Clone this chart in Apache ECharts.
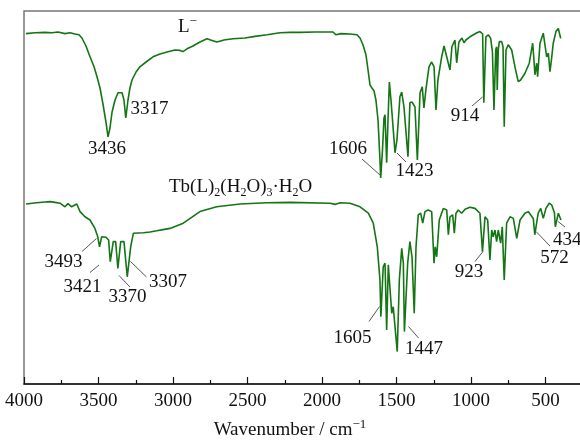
<!DOCTYPE html>
<html><head><meta charset="utf-8">
<script src="https://cdn.jsdelivr.net/npm/echarts@6/dist/echarts.min.js"></script>
<style>html,body{margin:0;padding:0;background:#fff}#c{width:580px;height:441px}</style>
</head><body><div id="c"></div>
<script>
// Wavenumber (cm-1) and relative transmittance (a.u., offset traces)
const ligandWavenumbers = [3987,3926,3859,3812,3772,3725,3691,3658,3631,3611,3584,3557,3530,3510,3490,3470,3450,3436,3423,3409,3389,3369,3356,3342,3329,3317,3302,3289,3275,3248,3222,3181,3134,3087,3040,2987,2953,2933,2906,2866,2819,2772,2738,2705,2658,2597,2517,2450,2369,2282,2215,2148,2047,1926,1906,1893,1873,1812,1765,1745,1725,1705,1691,1678,1665,1651,1638,1624,1611,1606,1594,1584,1577,1566,1557,1548,1537,1510,1497,1477,1465,1450,1423,1410,1396,1376,1360,1342,1327,1316,1302,1282,1264,1248,1235,1222,1197,1181,1168,1141,1128,1108,1096,1081,1061,1047,1034,1007,960,940,922,914,900,884,868,856,846,834,828,824,817,810,801,794,785,777,765,750,727,705,683,667,638,609,586,579,571,559,553,537,515,504,492,481,470,459,448,430,414,403,398];
const ligandValues = [87.6,87.8,87.9,87.8,88.0,87.6,87.8,87.5,87.3,86.5,84.5,81.8,79.3,76.8,74.0,70.0,65.5,61.8,64.0,68.0,71.0,72.8,73.3,72.8,71.0,66.5,71.0,74.0,76.0,78.0,79.3,80.5,81.8,82.5,83.0,83.5,83.4,83.1,83.8,84.5,85.5,86.3,85.9,85.5,86.0,86.3,86.5,86.9,87.3,87.8,87.9,87.9,88.0,88.0,87.3,87.0,87.6,87.5,87.3,86.5,84.8,82.3,78.5,74.8,74.0,73.3,71.0,66.0,56.0,51.5,58.5,66.5,67.3,55.3,66.0,75.5,71.0,57.8,61.0,71.8,73.0,69.3,56.8,70.3,70.5,69.3,56.0,72.8,74.3,69.0,73.8,79.3,80.5,79.3,68.5,76.0,81.8,84.5,84.3,78.5,84.3,86.0,80.3,85.5,86.5,85.3,86.0,86.8,87.8,88.1,87.5,70.3,86.8,87.3,86.4,83.0,68.5,83.5,84.3,73.5,83.5,85.6,85.7,85.6,84.3,64.3,83.5,84.8,83.5,79.3,75.6,76.0,77.7,80.2,85.2,81.8,77.3,80.2,76.8,85.2,87.7,87.3,81.8,82.7,78.1,81.4,85.2,88.1,88.9,89.3,86.4];

const complexWavenumbers = [3987,3915,3859,3826,3792,3758,3725,3705,3680,3646,3624,3591,3557,3524,3505,3493,3479,3450,3432,3421,3401,3385,3370,3351,3329,3307,3284,3266,3199,3154,3109,3067,3020,2931,2819,2707,2550,2371,2215,1946,1913,1879,1812,1745,1689,1656,1629,1611,1605,1589,1577,1566,1555,1544,1532,1522,1510,1495,1481,1465,1454,1447,1425,1410,1396,1381,1369,1354,1338,1324,1309,1287,1264,1248,1240,1230,1213,1186,1163,1152,1141,1123,1112,1101,1085,1063,1040,1007,973,940,923,906,888,873,861,851,839,828,817,801,790,777,761,738,716,693,671,638,616,582,572,549,532,515,497,475,459,440,434,414,408,396];
const complexValues = [45.0,45.3,45.5,45.6,45.4,45.2,44.3,45.1,44.3,45.0,43.1,41.8,41.0,38.9,36.8,34.3,36.8,36.7,36.0,30.6,35.6,35.6,28.9,35.6,35.6,26.8,34.3,37.7,37.8,38.0,38.3,38.6,38.9,40.2,43.1,44.3,45.0,45.3,45.4,45.2,44.9,45.3,45.2,44.3,42.7,40.2,34.3,26.0,16.8,29.3,30.2,13.5,29.8,29.3,17.7,19.3,19.8,8.1,26.0,33.9,30.2,13.1,30.2,35.6,31.8,17.7,34.3,42.3,42.7,40.2,43.1,43.5,43.1,30.2,34.3,31.8,41.0,43.9,43.5,37.3,41.8,42.3,37.7,42.7,43.5,42.7,43.7,44.2,43.9,42.7,33.1,41.8,41.0,31.0,38.5,36.8,38.5,35.6,38.5,35.2,39.3,26.0,40.2,41.8,41.4,36.4,41.0,42.7,43.1,41.4,37.3,42.7,43.9,41.4,43.9,45.2,44.8,42.8,39.3,42.7,42.9,41.0];

const xTickLabels = [4000,3500,3000,2500,2000,1500,1000,500];

const FONT = '"Liberation Serif", "Times New Roman", serif';
const chart = echarts.init(document.getElementById('c'), null, {renderer: 'canvas'});

const toPairs = (xs, ys) => xs.map((x, i) => [x, ys[i]]);
const lineColor = '#147514';

function label(text, cx, cy) {
  return {type: 'text', x: cx, y: cy, z: 10,
    style: {text: text, font: '19px ' + FONT, fill: '#111', align: 'center', verticalAlign: 'middle'}};
}
function leader(x1, y1, x2, y2) {
  return {type: 'line', z: 10, shape: {x1, y1, x2, y2}, style: {stroke: '#555', lineWidth: 1}};
}

const richStyles = {
  n: {fontFamily: FONT, fontSize: 19, lineHeight: 24, fill: '#111', verticalAlign: 'middle'},
  sub: {fontFamily: FONT, fontSize: 12, lineHeight: 10, fill: '#111', verticalAlign: 'bottom'},
  sup: {fontFamily: FONT, fontSize: 13, lineHeight: 12, fill: '#111', verticalAlign: 'top'}
};

chart.setOption({
  animation: false,
  backgroundColor: '#fff',
  grid: {left: 24, top: 11, width: 596, height: 373, show: true, borderColor: '#777', borderWidth: 1.5,
         containLabel: false, outerBoundsMode: 'none'},
  xAxis: {
    type: 'value', min: 0, max: 4000, interval: 500, inverse: true,
    axisLine: {show: true, onZero: false, lineStyle: {color: '#111', width: 1.5}},
    axisTick: {show: true, inside: true, length: 7, lineStyle: {color: '#111', width: 1.2}},
    minorTick: {show: true, splitNumber: 2, length: 4, lineStyle: {color: '#111', width: 1.2}},
    splitLine: {show: false},
    axisLabel: {margin: 8, fontFamily: FONT, fontSize: 19, color: '#111', hideOverlap: false,
      formatter: v => xTickLabels.indexOf(v) >= 0 ? String(v) : ''}
  },
  yAxis: {
    type: 'value', min: 0, max: 93.25,
    axisLine: {show: true, lineStyle: {color: '#111', width: 1.5}},
    axisTick: {show: false}, axisLabel: {show: false}, splitLine: {show: false}
  },
  series: [
    {name: 'L-', type: 'line', data: toPairs(ligandWavenumbers, ligandValues), showSymbol: false,
     lineStyle: {color: lineColor, width: 1.6}},
    {name: 'Tb(L)2(H2O)3·H2O', type: 'line', data: toPairs(complexWavenumbers, complexValues), showSymbol: false,
     lineStyle: {color: lineColor, width: 1.6}}
  ],
  graphic: [
    {type: 'text', x: 178, y: 27, z: 10, style: {text: '{n|L}{sup|−}', rich: richStyles, verticalAlign: 'middle'}},
    {type: 'text', x: 169, y: 187, z: 10, style: {text: '{n|Tb(L)}{sub|2}{n|(H}{sub|2}{n|O)}{sub|3}{n|·H}{sub|2}{n|O}', rich: richStyles, verticalAlign: 'middle'}},
    {type: 'text', x: 290, y: 430, z: 10, style: {text: '{n|Wavenumber / cm}{sup|−1}', rich: richStyles, align: 'center', verticalAlign: 'middle'}},
    label('3436', 107, 149), label('3317', 149.5, 109),
    label('1606', 348, 149), leader(362, 159, 380, 175),
    label('1423', 414.5, 171.5), leader(397, 153, 406, 162),
    label('914', 465, 116), leader(472, 106, 482.5, 97),
    label('3493', 63.5, 262.5), leader(82, 251.5, 96.5, 238.5),
    label('3421', 82.5, 287), leader(90, 272.5, 99, 265),
    label('3370', 127.5, 297.5), leader(119, 275.5, 130, 287),
    label('3307', 168, 282), leader(130.5, 261.5, 146.5, 277),
    label('1605', 352.5, 338.5), leader(369, 321.5, 379.5, 306.5),
    label('1447', 424, 349), leader(408.5, 326.5, 418.5, 338),
    label('923', 469, 272), leader(475, 261.5, 483, 251.5),
    label('572', 554.5, 258), leader(536, 231.5, 550, 246),
    {type: 'text', x: 553, y: 240, z: 10, style: {text: '434', font: '19px ' + FONT, fill: '#111', align: 'left', verticalAlign: 'middle'}},
    leader(558, 221.5, 565, 227)
  ]
});
</script></body></html>
